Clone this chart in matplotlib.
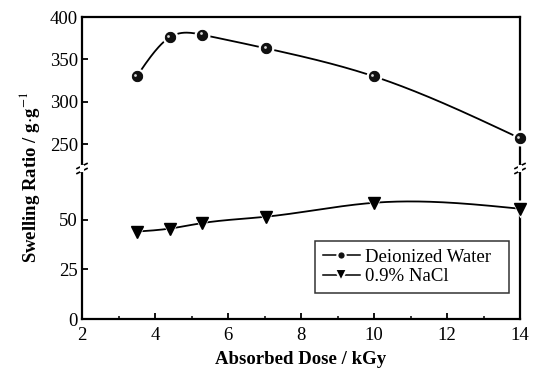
import numpy as np
import matplotlib
matplotlib.use("Agg")
import matplotlib.pyplot as plt
from matplotlib.lines import Line2D
from matplotlib.transforms import offset_copy

plt.rcParams['font.family'] = ['Liberation Serif', 'DejaVu Serif']
plt.rcParams['mathtext.fontset'] = 'stix'

# absorbed dose (kGy) and swelling ratio (g/g)
dose = [3.5, 4.4, 5.3, 7.05, 10, 14]
water = [330, 376, 379, 363, 330, 257]
nacl = [44, 45.5, 48.3, 51.5, 58.5, 55.5]


def natural_spline(x, y, n=300):
    # natural cubic spline through the points, for the smooth connecting line
    x = np.asarray(x, float)
    y = np.asarray(y, float)
    k = len(x)
    h = np.diff(x)
    A = np.zeros((k, k))
    b = np.zeros(k)
    A[0, 0] = A[-1, -1] = 1
    for i in range(1, k - 1):
        A[i, i - 1] = h[i - 1]
        A[i, i] = 2 * (h[i - 1] + h[i])
        A[i, i + 1] = h[i]
        b[i] = 6 * ((y[i + 1] - y[i]) / h[i] - (y[i] - y[i - 1]) / h[i - 1])
    m = np.linalg.solve(A, b)
    xs = np.linspace(x[0], x[-1], n)
    j = np.clip(np.searchsorted(x, xs) - 1, 0, k - 2)
    t1 = x[j + 1] - xs
    t0 = xs - x[j]
    hj = h[j]
    ys = (m[j] * t1 ** 3 + m[j + 1] * t0 ** 3) / (6 * hj) \
        + (y[j] / hj - m[j] * hj / 6) * t1 + (y[j + 1] / hj - m[j + 1] * hj / 6) * t0
    return xs, ys


fig = plt.figure(figsize=(5.35, 3.68), dpi=100)
W, H = 535, 368
left, right = 82, 520
ax_top = fig.add_axes([left / W, (H - 168) / H, (right - left) / W, 151 / H])
ax_bot = fig.add_axes([left / W, (H - 319) / H, (right - left) / W, 151 / H])

lw_spine = 1.6
fs = 13.5

def sphere(ax, x, y, ms=7.5):
    ax.plot(x, y, 'o', ms=ms + 4, color='white', mec='none', zorder=3, clip_on=False)
    ax.plot(x, y, 'o', ms=ms, color='#111111', mec='black', mew=0.6, zorder=4, clip_on=False)
    tr = offset_copy(ax.transData, fig=fig, x=-1.1, y=1.1, units='points')
    ax.plot(x, y, 'o', ms=2.0, color='#d8d8d8', mec='none', zorder=5, transform=tr, clip_on=False)


xs, ys = natural_spline(dose, water)
ax_top.plot(xs, ys, color='black', lw=1.3, zorder=2)
sphere(ax_top, dose, water)

xs, ys = natural_spline(dose, nacl)
ax_bot.plot(xs, ys, color='black', lw=1.3, zorder=2)
ax_bot.plot(dose, nacl, 'v', ms=12.5, color='white', mec='none', zorder=3, clip_on=False)
ax_bot.plot(dose, nacl, 'v', ms=8.5, color='black', zorder=4, clip_on=False)

ax_top.set_ylim(222, 400)
ax_bot.set_ylim(0, 76)
for ax in (ax_top, ax_bot):
    ax.set_xlim(2, 14)
    for s in ax.spines.values():
        s.set_linewidth(lw_spine)
    ax.tick_params(axis='both', direction='in', labelsize=fs, width=1.3, length=4,
                   right=False, top=False, pad=3)

ax_top.spines['bottom'].set_visible(False)
ax_bot.spines['top'].set_visible(False)
ax_top.set_xticks([])
ax_top.set_yticks([250, 300, 350, 400])
ax_bot.set_yticks([0, 25, 50])
ax_bot.set_xticks([2, 4, 6, 8, 10, 12, 14])
ax_bot.set_xticks(np.arange(3, 14, 2), minor=True)
ax_bot.tick_params(axis='x', which='minor', direction='in', length=2.5, width=1.1, top=False)
ax_bot.tick_params(axis='x', pad=6)

# break marks on the left and right spines
for xf in (left, right):
    for yb in (166, 171):
        x0, x1 = (xf - 5) / W, (xf + 5) / W
        y0, y1 = (H - yb - 2.5) / H, (H - yb + 2.5) / H
        fig.add_artist(Line2D([x0, x1], [y0, y1], color='black', lw=1.2))
    fig.add_artist(Line2D([xf / W, xf / W], [(H - 170) / H, (H - 167) / H],
                          color='white', lw=3, zorder=5))

ax_bot.set_xlabel('Absorbed Dose / kGy', fontsize=fs, fontweight='bold', labelpad=5)
fig.text(30 / W, (H - 177) / H, r'Swelling Ratio / g$\cdot$g$^{-1}$', rotation=90,
         ha='center', va='center', fontsize=fs, fontweight='bold')

handles = [
    Line2D([], [], color='black', lw=1.1, marker='o', ms=6, mfc='#111111',
           mec='white', mew=1.5),
    Line2D([], [], color='black', lw=1.1, marker='v', ms=8.5, mfc='black',
           mec='white', mew=1.5),
]
leg = ax_bot.legend(handles, ['Deionized Water', '0.9% NaCl'], loc='upper left',
                    bbox_to_anchor=(0.532, 0.517, 0.443, 0.0), mode='expand',
                    fontsize=fs, frameon=True, fancybox=False, edgecolor='black',
                    handlelength=2.0, handletextpad=0.25, borderpad=0.4,
                    labelspacing=0.15, borderaxespad=0)
leg.get_frame().set_linewidth(1.1)

fig.savefig('out.png', dpi=100)
